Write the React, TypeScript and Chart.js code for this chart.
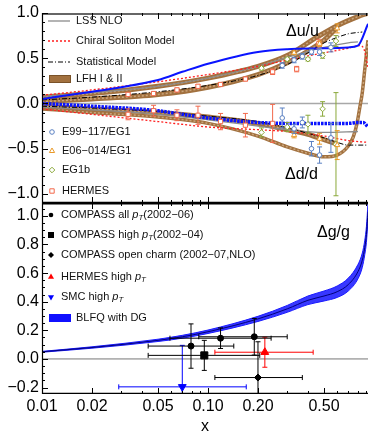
import React, { useEffect, useRef } from 'react';
import { Chart, registerables } from 'chart.js';

Chart.register(...registerables);

const FONT = "'Liberation Sans', Arial, Helvetica, sans-serif";

// ---------------- axes ----------------
const X_MIN = 0.01;
const X_MAX = 0.92;
const X_TICK_VALUES = [0.01, 0.02, 0.05, 0.1, 0.2, 0.5];
const X_TICK_LABELS = ['0.01', '0.02', '0.05', '0.10', '0.20', '0.50'];
const X_MINOR_TICKS = [0.03, 0.04, 0.06, 0.07, 0.08, 0.09, 0.3, 0.4, 0.6, 0.7, 0.8, 0.9];
const TOP_Y_MIN = -1.1;
const TOP_Y_MAX = 1.0;
const TOP_Y_TICKS = [-1, -0.5, 0, 0.5, 1];
const BOT_Y_MIN = -0.245;
const BOT_Y_MAX = 1.09;
const BOT_Y_TICKS = [-0.2, 0, 0.2, 0.4, 0.6, 0.8, 1.0];

// ---------------- Δu/u model curves ----------------
const BLFQ_U_X = [0.01, 0.02, 0.03, 0.05, 0.07, 0.1, 0.2, 0.3, 0.5, 0.7, 0.8, 0.92];
const BLFQ_U_Y = [0.05, 0.13, 0.18, 0.26, 0.35, 0.44, 0.57, 0.6, 0.61, 0.62, 0.64, 0.88];
const LSS_U_X = [0.01, 0.02, 0.05, 0.1, 0.2, 0.3, 0.5, 0.7, 0.8];
const LSS_U_Y = [0.08, 0.12, 0.19, 0.28, 0.41, 0.51, 0.62, 0.67, 0.68];
const CHIRAL_U_X = [0.01, 0.02, 0.05, 0.1, 0.2, 0.3, 0.5, 0.7, 0.82, 0.87, 0.92];
const CHIRAL_U_Y = [0.09, 0.15, 0.24, 0.32, 0.41, 0.48, 0.56, 0.61, 0.64, 0.6, 0.4];
const STAT_U_X = [0.01, 0.02, 0.05, 0.1, 0.2, 0.3, 0.4, 0.5, 0.6, 0.7, 0.85];
const STAT_U_Y = [0.04, 0.07, 0.13, 0.2, 0.31, 0.43, 0.56, 0.67, 0.73, 0.77, 0.79];
const LFH1_U_X = [0.01, 0.02, 0.05, 0.1, 0.2, 0.3, 0.45, 0.6, 0.8, 0.92];
const LFH1_U_Y = [0.07, 0.11, 0.19, 0.28, 0.41, 0.53, 0.73, 0.86, 0.96, 1.0];
const LFH2_U_X = [0.01, 0.02, 0.05, 0.1, 0.2, 0.3, 0.4, 0.5, 0.6];
const LFH2_U_Y = [0.02, 0.05, 0.1, 0.18, 0.32, 0.45, 0.58, 0.7, 0.84];

// ---------------- Δd/d model curves ----------------
const BLFQ_D_X = [0.01, 0.02, 0.05, 0.07, 0.1, 0.2, 0.3, 0.5, 0.7, 0.8, 0.86, 0.92];
const BLFQ_D_Y = [0.0, -0.03, -0.08, -0.12, -0.16, -0.21, -0.22, -0.22, -0.22, -0.21, -0.21, -0.26];
const LSS_D_X = [0.01, 0.02, 0.05, 0.1, 0.2, 0.3, 0.5, 0.8];
const LSS_D_Y = [-0.04, -0.07, -0.12, -0.18, -0.25, -0.29, -0.32, -0.31];
const CHIRAL_D_X = [0.01, 0.02, 0.05, 0.1, 0.2, 0.3, 0.5, 0.7, 0.92];
const CHIRAL_D_Y = [-0.06, -0.12, -0.2, -0.26, -0.29, -0.31, -0.36, -0.41, -0.43];
const STAT_D_X = [0.01, 0.02, 0.05, 0.1, 0.2, 0.3, 0.4, 0.5, 0.6, 0.7, 0.92];
const STAT_D_Y = [-0.03, -0.05, -0.09, -0.14, -0.2, -0.27, -0.33, -0.38, -0.43, -0.46, -0.46];
const LFH1_D_X = [0.01, 0.02, 0.05, 0.1, 0.2, 0.3, 0.4, 0.5, 0.6];
const LFH1_D_Y = [-0.03, -0.06, -0.1, -0.15, -0.22, -0.29, -0.34, -0.4, -0.45];
const LFH2_D_X = [0.01, 0.02, 0.05, 0.1, 0.2, 0.3, 0.4, 0.5, 0.6, 0.7, 0.75, 0.79, 0.82, 0.85, 0.88, 0.92];
const LFH2_D_Y = [-0.06, -0.1, -0.15, -0.22, -0.36, -0.48, -0.55, -0.59, -0.57, -0.47, -0.37, -0.22, -0.05, 0.12, 0.38, 0.7];

// ---------------- top panel data points ----------------
const HERMES_U_X = [0.033, 0.047, 0.065, 0.087, 0.119, 0.168, 0.245, 0.342, 0.465];
const HERMES_U_Y = [0.10, 0.11, 0.15, 0.19, 0.21, 0.27, 0.35, 0.38, 0.66];
const HERMES_U_ERR = [0.02, 0.02, 0.02, 0.02, 0.02, 0.02, 0.03, 0.03, 0.05];
const HERMES_D_X = [0.033, 0.047, 0.065, 0.087, 0.119, 0.168, 0.245];
const HERMES_D_Y = [-0.12, -0.08, -0.13, -0.13, -0.2, -0.24, -0.22];
const HERMES_D_ERR = [0.06, 0.06, 0.06, 0.1, 0.09, 0.13, 0.21];

const E99_X = [0.28, 0.33, 0.37, 0.42, 0.47, 0.55];
const E99_U_Y = [0.42, 0.48, 0.52, 0.57, 0.57, 0.62];
const E99_U_ERR = [0.03, 0.03, 0.03, 0.03, 0.04, 0.05];
const E99_D_Y = [-0.16, -0.28, -0.21, -0.5, -0.57, -0.38];
const E99_D_ERR = [0.11, 0.05, 0.06, 0.08, 0.09, 0.16];

const E06_X = [0.33, 0.47, 0.6];
const E06_U_Y = [0.56, 0.66, 0.83];
const E06_U_ERR = [0.02, 0.03, 0.05];
const E06_D_Y = [-0.35, -0.39, -0.46];
const E06_D_ERR = [0.03, 0.06, 0.16];

const EG1B_X = [0.21, 0.3, 0.4, 0.49, 0.59];
const EG1B_U_Y = [0.39, 0.49, 0.49, 0.53, 0.69];
const EG1B_U_ERR = [0.02, 0.02, 0.02, 0.03, 0.06];
const EG1B_D_Y = [-0.32, -0.26, -0.23, -0.06, -0.45];
const EG1B_D_ERR = [0.05, 0.05, 0.1, 0.08, 0.57];

// ---------------- Δg/g ----------------
const DG_X = [0.01, 0.02, 0.05, 0.07, 0.1, 0.2, 0.3, 0.4, 0.5, 0.6, 0.7, 0.8, 0.85, 0.88, 0.9, 0.92];
const DG_Y = [0.05, 0.08, 0.13, 0.155, 0.19, 0.28, 0.35, 0.41, 0.44, 0.47, 0.52, 0.61, 0.69, 0.78, 0.87, 1.03];
const DG_ERR = [0.003, 0.005, 0.008, 0.01, 0.012, 0.018, 0.024, 0.03, 0.035, 0.04, 0.045, 0.05, 0.05, 0.05, 0.055, 0.06];

const COMPASS_ALL_X = [0.079, 0.119, 0.19];
const COMPASS_ALL_Y = [0.09, 0.145, 0.155];
const COMPASS_ALL_ERR = [0.155, 0.072, 0.128];
const COMPASS_ALL_XLO = [0.0436, 0.059, 0.088];
const COMPASS_ALL_XHI = [0.143, 0.24, 0.3];

const COMPASS_HIGH_X = [0.095];
const COMPASS_HIGH_Y = [0.025];
const COMPASS_HIGH_ERR = [0.105];
const COMPASS_HIGH_XLO = [0.0436];
const COMPASS_HIGH_XHI = [0.205];

const CHARM_X = [0.2];
const CHARM_Y = [-0.13];
const CHARM_ERR = [0.25];
const CHARM_XLO = [0.11];
const CHARM_XHI = [0.37];

const HERMES_HIGH_X = [0.22];
const HERMES_HIGH_Y = [0.047];
const HERMES_HIGH_ERR = [0.105];
const HERMES_HIGH_XLO = [0.11];
const HERMES_HIGH_XHI = [0.43];

const SMC_X = [0.07];
const SMC_Y = [-0.195];
const SMC_ERR = [0.29];
const SMC_XLO = [0.029];
const SMC_XHI = [0.17];

// ---------------- colours ----------------
const C_BLUE = '#0a14ff';
const C_GRAY = '#8c8c8c';
const C_RED = '#ff1e1e';
const C_BROWN = '#a2713f';
const C_BROWN_LIGHT = '#c9a57c';
const C_E99 = '#5a80c2';
const C_E06 = '#e99a2a';
const C_EG1B = '#8aa83a';
const C_HERMES = '#f2694c';

const xy = (xs: number[], ys: number[]) => xs.map((x, i) => ({ x, y: ys[i] }));
const fmtY = (v: number) => Number(v).toFixed(1).replace('-', '\u2212');

function curve(label: string, xs: number[], ys: number[], color: string, width: number, dash: number[], order: number, extra: any = {}) {
  return {
    type: 'line', label, data: xy(xs, ys), borderColor: color, borderWidth: width, borderDash: dash,
    pointRadius: 0, fill: false, cubicInterpolationMode: 'monotone', order, ...extra,
  };
}

function markers(label: string, xs: number[], ys: number[], err: number[] | null, style: string, color: string, fillColor: string, radius: number, extra: any = {}) {
  return {
    type: 'line', label, data: xy(xs, ys), showLine: false, pointStyle: style, pointRadius: radius,
    pointBorderColor: color, pointBackgroundColor: fillColor, pointBorderWidth: 1, borderColor: color,
    errY: err, errColor: color, order: 0, ...extra,
  };
}

// error bars drawn just before each marker dataset
const errorBarPlugin = {
  id: 'errorBars',
  beforeDatasetDraw(chart: any, args: any) {
    const ds: any = chart.data.datasets[args.index];
    if (!ds.errY && !ds.errXLo) return;
    const { ctx, chartArea } = chart;
    const sx = chart.scales.x, sy = chart.scales.y;
    const cap = ds.capHalf ?? 2.5;
    ctx.save();
    ctx.beginPath();
    ctx.rect(chartArea.left, chartArea.top, chartArea.right - chartArea.left, chartArea.bottom - chartArea.top);
    ctx.clip();
    ctx.strokeStyle = ds.errColor;
    ctx.lineWidth = 1;
    ds.data.forEach((p: any, i: number) => {
      const px = sx.getPixelForValue(p.x);
      const py = sy.getPixelForValue(p.y);
      ctx.beginPath();
      if (ds.errY) {
        const y1 = sy.getPixelForValue(p.y + ds.errY[i]);
        const y2 = sy.getPixelForValue(p.y - ds.errY[i]);
        ctx.moveTo(px, y1); ctx.lineTo(px, y2);
        ctx.moveTo(px - cap, y1); ctx.lineTo(px + cap, y1);
        ctx.moveTo(px - cap, y2); ctx.lineTo(px + cap, y2);
      }
      if (ds.errXLo) {
        const x1 = sx.getPixelForValue(ds.errXLo[i]);
        const x2 = sx.getPixelForValue(ds.errXHi[i]);
        ctx.moveTo(x1, py); ctx.lineTo(x2, py);
        ctx.moveTo(x1, py - cap); ctx.lineTo(x1, py + cap);
        ctx.moveTo(x2, py - cap); ctx.lineTo(x2, py + cap);
      }
      ctx.stroke();
    });
    ctx.restore();
  },
};

function framePlugin(cfg: { yMajor: number[]; yMinorStep: number; yMin: number; yMax: number; topColor: string; topWidth: number; zeroColor: string; zeroWidth: number }) {
  return {
    id: 'frame',
    beforeDatasetsDraw(chart: any) {
      const { ctx, chartArea } = chart;
      const y0 = chart.scales.y.getPixelForValue(0);
      ctx.save();
      ctx.strokeStyle = cfg.zeroColor;
      ctx.lineWidth = cfg.zeroWidth;
      ctx.beginPath();
      ctx.moveTo(chartArea.left, y0);
      ctx.lineTo(chartArea.right, y0);
      ctx.stroke();
      ctx.restore();
    },
    afterDatasetsDraw(chart: any) {
      const { ctx, chartArea } = chart;
      const { left, right, top, bottom } = chartArea;
      const sx = chart.scales.x, sy = chart.scales.y;
      ctx.save();
      ctx.strokeStyle = cfg.topColor;
      ctx.lineWidth = cfg.topWidth;
      ctx.beginPath();
      ctx.moveTo(left, top + cfg.topWidth / 2);
      ctx.lineTo(right, top + cfg.topWidth / 2);
      ctx.stroke();
      ctx.strokeStyle = '#000';
      ctx.lineWidth = 1.2;
      ctx.beginPath();
      ctx.moveTo(left + 0.5, top);
      ctx.lineTo(left + 0.5, bottom);
      ctx.moveTo(left, bottom - 0.6);
      ctx.lineTo(right, bottom - 0.6);
      ctx.stroke();
      ctx.lineWidth = 1;
      ctx.beginPath();
      const xt = (v: number, len: number) => {
        const px = Math.round(sx.getPixelForValue(v)) + 0.5;
        ctx.moveTo(px, bottom); ctx.lineTo(px, bottom - len);
        ctx.moveTo(px, top); ctx.lineTo(px, top + len);
      };
      X_TICK_VALUES.forEach((v) => xt(v, 6));
      X_MINOR_TICKS.forEach((v) => xt(v, 3));
      const n0 = Math.ceil(cfg.yMin / cfg.yMinorStep - 1e-9);
      const n1 = Math.floor(cfg.yMax / cfg.yMinorStep + 1e-9);
      for (let n = n0; n <= n1; n++) {
        const v = n * cfg.yMinorStep;
        const major = cfg.yMajor.some((m) => Math.abs(m - v) < 1e-6);
        const py = Math.round(sy.getPixelForValue(v)) + 0.5;
        ctx.moveTo(left, py);
        ctx.lineTo(left + (major ? 6 : 3), py);
      }
      ctx.stroke();
      ctx.restore();
    },
  };
}

type Part = { t: string; it?: boolean; sub?: boolean };
function drawRich(ctx: CanvasRenderingContext2D, x: number, y: number, parts: Part[], size: number) {
  let cx = x;
  for (const p of parts) {
    const fs = p.sub ? size * 0.72 : size;
    ctx.font = `${p.it ? 'italic ' : ''}${fs}px ${FONT}`;
    ctx.fillText(p.t, cx, p.sub ? y + size * 0.3 : y);
    cx += ctx.measureText(p.t).width;
  }
}

function drawMarker(ctx: CanvasRenderingContext2D, style: string, x: number, y: number, r: number, fill: string | null, stroke: string | null) {
  ctx.save();
  ctx.beginPath();
  if (style === 'circle') ctx.arc(x, y, r, 0, Math.PI * 2);
  else if (style === 'rect') ctx.rect(x - r, y - r, 2 * r, 2 * r);
  else if (style === 'rectRot') { ctx.moveTo(x, y - r); ctx.lineTo(x + r, y); ctx.lineTo(x, y + r); ctx.lineTo(x - r, y); ctx.closePath(); }
  else if (style === 'triangle') { ctx.moveTo(x, y - r); ctx.lineTo(x + r * 0.87, y + r * 0.5); ctx.lineTo(x - r * 0.87, y + r * 0.5); ctx.closePath(); }
  else if (style === 'triangleDown') { ctx.moveTo(x, y + r); ctx.lineTo(x + r * 0.87, y - r * 0.5); ctx.lineTo(x - r * 0.87, y - r * 0.5); ctx.closePath(); }
  if (fill) { ctx.fillStyle = fill; ctx.fill(); }
  if (stroke) { ctx.strokeStyle = stroke; ctx.lineWidth = 1; ctx.stroke(); }
  ctx.restore();
}

const topLegendPlugin = {
  id: 'topLegend',
  afterDraw(chart: any) {
    const ctx: CanvasRenderingContext2D = chart.ctx;
    ctx.save();
    ctx.textBaseline = 'middle';
    ctx.textAlign = 'left';
    ctx.fillStyle = '#111';
    const size = 11;
    const lines = [
      { t: 'LSS NLO', y: 21, color: C_GRAY, w: 1.3, dash: [] as number[] },
      { t: 'Chiral Soliton Model', y: 41, color: C_RED, w: 1.3, dash: [2, 2] },
      { t: 'Statistical Model', y: 62, color: '#000', w: 1, dash: [5, 2, 1, 2] },
    ];
    lines.forEach((l) => {
      ctx.strokeStyle = l.color; ctx.lineWidth = l.w; ctx.setLineDash(l.dash);
      ctx.beginPath(); ctx.moveTo(48, l.y); ctx.lineTo(70, l.y); ctx.stroke();
      ctx.setLineDash([]);
      drawRich(ctx, 76, l.y, [{ t: l.t }], size);
    });
    ctx.fillStyle = C_BROWN; ctx.fillRect(49, 75, 22, 8);
    ctx.strokeStyle = '#7a5228'; ctx.lineWidth = 1; ctx.strokeRect(49.5, 75.5, 21, 7);
    ctx.fillStyle = '#111';
    drawRich(ctx, 76, 79, [{ t: 'LFH I & II' }], size);

    const pts = [
      { t: 'E99\u2212117/EG1', y: 132, s: 'circle', c: C_E99, r: 2.3 },
      { t: 'E06\u2212014/EG1', y: 151, s: 'triangle', c: C_E06, r: 3 },
      { t: 'EG1b', y: 170, s: 'rectRot', c: C_EG1B, r: 2.8 },
      { t: 'HERMES', y: 191, s: 'rect', c: C_HERMES, r: 2.2 },
    ];
    pts.forEach((p) => {
      drawMarker(ctx, p.s, 52, p.y, p.r, '#fff', p.c);
      ctx.fillStyle = '#111';
      drawRich(ctx, 62, p.y, [{ t: p.t }], size);
    });
    ctx.fillStyle = '#000';
    ctx.font = `16px ${FONT}`;
    ctx.fillText('\u0394u/u', 286, 32);
    ctx.fillText('\u0394d/d', 285, 175);
    ctx.restore();
  },
};

const OFF = 203;
const botLegendPlugin = {
  id: 'botLegend',
  afterDraw(chart: any) {
    const ctx: CanvasRenderingContext2D = chart.ctx;
    ctx.save();
    ctx.textBaseline = 'middle';
    ctx.textAlign = 'left';
    const size = 11;
    const items: { parts: Part[]; y: number; s: string; c: string; r: number }[] = [
      { parts: [{ t: 'COMPASS all ' }, { t: 'p', it: true }, { t: 'T', it: true, sub: true }, { t: '(2002\u221206)' }], y: 215, s: 'circle', c: '#000', r: 2.3 },
      { parts: [{ t: 'COMPASS high ' }, { t: 'p', it: true }, { t: 'T', it: true, sub: true }, { t: '(2002\u221204)' }], y: 235, s: 'rect', c: '#000', r: 3 },
      { parts: [{ t: 'COMPASS open charm (2002\u221207,NLO)' }], y: 255, s: 'rectRot', c: '#000', r: 3 },
      { parts: [{ t: 'HERMES high ' }, { t: 'p', it: true }, { t: 'T', it: true, sub: true }], y: 277, s: 'triangle', c: '#ff0000', r: 3.5 },
      { parts: [{ t: 'SMC high ' }, { t: 'p', it: true }, { t: 'T', it: true, sub: true }], y: 297, s: 'triangleDown', c: '#0000ff', r: 3.5 },
    ];
    items.forEach((it) => {
      drawMarker(ctx, it.s, 51, it.y - OFF, it.r, it.c, null);
      ctx.fillStyle = '#111';
      drawRich(ctx, 61, it.y - OFF, it.parts, size);
    });
    ctx.fillStyle = '#1010ff';
    ctx.fillRect(49, 314 - OFF, 22, 8);
    ctx.fillStyle = '#111';
    drawRich(ctx, 76, 318 - OFF, [{ t: 'BLFQ with DG' }], size);
    ctx.fillStyle = '#000';
    ctx.font = `16px ${FONT}`;
    ctx.fillText('\u0394g/g', 317, 233 - OFF);
    ctx.restore();
  },
};

function yAxis(min: number, max: number, ticks: number[]) {
  return {
    type: 'linear', min, max,
    afterBuildTicks: (s: any) => { s.ticks = ticks.map((v) => ({ value: v })); },
    afterFit: (s: any) => { s.width = 42; s.paddingTop = 0; s.paddingBottom = 0; },
    grid: { display: false, drawTicks: false },
    border: { display: false },
    ticks: { callback: (v: any) => fmtY(v), font: { family: FONT, size: 16 }, color: '#000', padding: 3 },
  };
}

function topConfig(): any {
  const datasets = [
    markers('E99-117/EG1 Δu/u', E99_X, E99_U_Y, E99_U_ERR, 'circle', C_E99, '#fff', 2.3),
    markers('E99-117/EG1 Δd/d', E99_X, E99_D_Y, E99_D_ERR, 'circle', C_E99, '#fff', 2.3),
    markers('E06-014/EG1 Δu/u', E06_X, E06_U_Y, E06_U_ERR, 'triangle', C_E06, '#fff', 3),
    markers('E06-014/EG1 Δd/d', E06_X, E06_D_Y, E06_D_ERR, 'triangle', C_E06, '#fff', 3),
    markers('EG1b Δu/u', EG1B_X, EG1B_U_Y, EG1B_U_ERR, 'rectRot', C_EG1B, '#fff', 2.8),
    markers('EG1b Δd/d', EG1B_X, EG1B_D_Y, EG1B_D_ERR, 'rectRot', C_EG1B, '#fff', 2.8),
    markers('HERMES Δu/u', HERMES_U_X, HERMES_U_Y, HERMES_U_ERR, 'rect', C_HERMES, '#fff', 3),
    markers('HERMES Δd/d', HERMES_D_X, HERMES_D_Y, HERMES_D_ERR, 'rect', C_HERMES, '#fff', 3),
    curve('BLFQ Δu/u', BLFQ_U_X, BLFQ_U_Y, C_BLUE, 2, [], 2),
    curve('BLFQ Δd/d', BLFQ_D_X, BLFQ_D_Y, C_BLUE, 3.5, [2.5, 1], 2),
    curve('Chiral Soliton Δu/u', CHIRAL_U_X, CHIRAL_U_Y, C_RED, 1.3, [2, 2], 3),
    curve('Chiral Soliton Δd/d', CHIRAL_D_X, CHIRAL_D_Y, C_RED, 1.3, [2, 2], 3),
    curve('Statistical Δu/u', STAT_U_X, STAT_U_Y, '#000', 1, [5, 2, 1, 2], 3),
    curve('Statistical Δd/d', STAT_D_X, STAT_D_Y, '#000', 1, [5, 2, 1, 2], 3),
    curve('LSS NLO Δu/u', LSS_U_X, LSS_U_Y, C_GRAY, 1.3, [], 4),
    curve('LSS NLO Δd/d', LSS_D_X, LSS_D_Y, C_GRAY, 1.3, [], 4),
    curve('LFH I Δu/u inner', LFH1_U_X, LFH1_U_Y, C_BROWN_LIGHT, 1.5, [2, 2], 5),
    curve('LFH II Δu/u inner', LFH2_U_X, LFH2_U_Y, C_BROWN_LIGHT, 1.5, [2, 2], 5),
    curve('LFH I Δd/d inner', LFH1_D_X, LFH1_D_Y, C_BROWN_LIGHT, 1.5, [2, 2], 5),
    curve('LFH II Δd/d inner', LFH2_D_X, LFH2_D_Y, C_BROWN_LIGHT, 1.5, [2, 2], 5),
    curve('LFH I Δu/u', LFH1_U_X, LFH1_U_Y, C_BROWN, 5, [], 6),
    curve('LFH II Δu/u', LFH2_U_X, LFH2_U_Y, C_BROWN, 5, [], 6),
    curve('LFH I Δd/d', LFH1_D_X, LFH1_D_Y, C_BROWN, 5, [], 6),
    curve('LFH II Δd/d', LFH2_D_X, LFH2_D_Y, C_BROWN, 3.5, [], 6),
  ];
  return {
    type: 'line',
    data: { datasets },
    options: {
      responsive: false, animation: false, devicePixelRatio: 1, events: [],
      layout: { autoPadding: false, padding: { top: 13, left: 0, right: 0, bottom: 0 } },
      plugins: { legend: { display: false }, tooltip: { enabled: false } },
      scales: {
        x: { type: 'logarithmic', min: X_MIN, max: X_MAX, display: false },
        y: yAxis(TOP_Y_MIN, TOP_Y_MAX, TOP_Y_TICKS),
      },
    },
    plugins: [
      errorBarPlugin,
      framePlugin({ yMajor: TOP_Y_TICKS, yMinorStep: 0.1, yMin: TOP_Y_MIN, yMax: TOP_Y_MAX, topColor: '#666', topWidth: 2, zeroColor: '#a8a8a8', zeroWidth: 1.6 }),
      topLegendPlugin,
    ],
  };
}

function botConfig(): any {
  const lo = DG_Y.map((v, i) => v - DG_ERR[i]);
  const hi = DG_Y.map((v, i) => v + DG_ERR[i]);
  const withX = (ds: any, xlo: number[], xhi: number[]) => ({ ...ds, errXLo: xlo, errXHi: xhi });
  const datasets = [
    withX(markers('COMPASS all pT (2002-06)', COMPASS_ALL_X, COMPASS_ALL_Y, COMPASS_ALL_ERR, 'circle', '#000', '#000', 3), COMPASS_ALL_XLO, COMPASS_ALL_XHI),
    withX(markers('COMPASS high pT (2002-04)', COMPASS_HIGH_X, COMPASS_HIGH_Y, COMPASS_HIGH_ERR, 'rect', '#000', '#000', 5), COMPASS_HIGH_XLO, COMPASS_HIGH_XHI),
    withX(markers('COMPASS open charm (2002-07,NLO)', CHARM_X, CHARM_Y, CHARM_ERR, 'rectRot', '#000', '#000', 3.5), CHARM_XLO, CHARM_XHI),
    withX(markers('HERMES high pT', HERMES_HIGH_X, HERMES_HIGH_Y, HERMES_HIGH_ERR, 'triangle', '#ff0000', '#ff0000', 4.5), HERMES_HIGH_XLO, HERMES_HIGH_XHI),
    withX(markers('SMC high pT', SMC_X, SMC_Y, SMC_ERR, 'triangle', '#0000ff', '#0000ff', 4.5, { pointRotation: 180 }), SMC_XLO, SMC_XHI),
    curve('BLFQ with DG lower', DG_X, lo, '#1a1aff', 1, [], 3),
    curve('BLFQ with DG upper', DG_X, hi, '#1a1aff', 1, [], 3, { fill: '-1', backgroundColor: 'rgba(38,38,255,0.92)' }),
    curve('BLFQ with DG', DG_X, DG_Y, '#00007a', 1, [], 2),
  ];
  return {
    type: 'line',
    data: { datasets },
    options: {
      responsive: false, animation: false, devicePixelRatio: 1, events: [],
      layout: { autoPadding: false, padding: { top: 0, left: 0, right: 0, bottom: 0 } },
      plugins: { legend: { display: false }, tooltip: { enabled: false }, filler: { propagate: false } },
      scales: {
        x: {
          type: 'logarithmic', min: X_MIN, max: X_MAX,
          afterBuildTicks: (s: any) => { s.ticks = X_TICK_VALUES.map((v) => ({ value: v })); },
          afterFit: (s: any) => { s.height = 41; s.paddingLeft = 0; s.paddingRight = 0; },
          grid: { display: false, drawTicks: false },
          border: { display: false },
          ticks: {
            autoSkip: false, maxRotation: 0, minRotation: 0, padding: 3,
            callback: (v: any) => { const i = X_TICK_VALUES.indexOf(Number(v)); return i >= 0 ? X_TICK_LABELS[i] : ''; },
            font: { family: FONT, size: 16 }, color: '#000',
          },
          title: { display: true, text: 'x', font: { family: FONT, size: 16, lineHeight: 1 }, color: '#000', padding: { top: 4, bottom: 0 } },
        },
        y: yAxis(BOT_Y_MIN, BOT_Y_MAX, BOT_Y_TICKS),
      },
    },
    plugins: [
      errorBarPlugin,
      framePlugin({ yMajor: BOT_Y_TICKS, yMinorStep: 0.05, yMin: BOT_Y_MIN, yMax: BOT_Y_MAX, topColor: '#000', topWidth: 1.5, zeroColor: '#777', zeroWidth: 1 }),
      botLegendPlugin,
    ],
  };
}

export default function App() {
  const topRef = useRef<HTMLCanvasElement>(null);
  const botRef = useRef<HTMLCanvasElement>(null);
  useEffect(() => {
    const top = new Chart(topRef.current as HTMLCanvasElement, topConfig());
    const bot = new Chart(botRef.current as HTMLCanvasElement, botConfig());
    return () => { top.destroy(); bot.destroy(); };
  }, []);
  return (
    <div style={{ position: 'fixed', left: 0, top: 0, width: 368, height: 435, background: '#fff', overflow: 'hidden' }}>
      <canvas ref={topRef} width={368} height={203} style={{ position: 'absolute', left: 0, top: 0, width: 368, height: 203 }} />
      <canvas ref={botRef} width={368} height={232} style={{ position: 'absolute', left: 0, top: 203, width: 368, height: 232 }} />
    </div>
  );
}
